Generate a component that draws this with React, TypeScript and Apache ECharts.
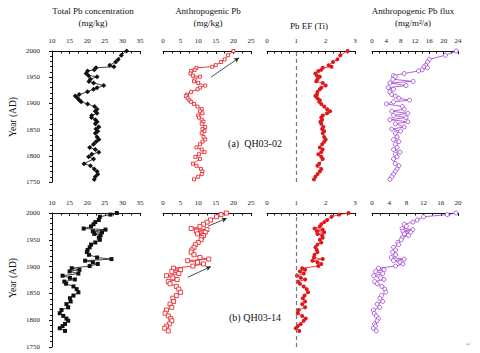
import React, { useEffect, useRef } from 'react';
import * as echarts from 'echarts';

// ---------- QH03-02 (top row) ----------
const topYears = [2000, 1992, 1984, 1979, 1973, 1970, 1968, 1964, 1962, 1957, 1953, 1951, 1946, 1942, 1939, 1934, 1930, 1927, 1922, 1917, 1914, 1910, 1906, 1903, 1899, 1894, 1889, 1885, 1881, 1877, 1873, 1869, 1865, 1861, 1855, 1851, 1847, 1843, 1836, 1831, 1827, 1822, 1816, 1812, 1807, 1803, 1798, 1794, 1785, 1781, 1775, 1770, 1765, 1760, 1755];
const topTotalPb = [31.2, 29.7, 28.8, 28.1, 26.4, 27.6, 22.5, 22.0, 20.1, 19.7, 20.4, 22.8, 20.9, 20.5, 21.8, 24.7, 22.8, 21.8, 20.1, 17.7, 16.6, 17.3, 17.8, 18.3, 20.1, 22.1, 22.8, 22.3, 22.8, 21.3, 21.2, 22.3, 22.8, 22.3, 23.3, 22.5, 23.0, 22.3, 22.8, 23.3, 22.5, 21.8, 20.7, 22.3, 23.3, 21.3, 20.4, 21.8, 19.1, 20.9, 22.0, 22.8, 23.0, 22.3, 22.0];
const topAnthPb = [20.0, 18.5, 17.5, 16.5, 15.0, 14.0, 9.5, 9.0, 8.0, 7.8, 8.5, 10.5, 9.0, 8.8, 10.0, 12.0, 10.5, 9.8, 8.0, 6.8, 6.5, 7.0, 7.5, 8.0, 8.8, 9.8, 11.0, 10.5, 11.2, 10.0, 10.2, 11.0, 11.5, 11.0, 12.0, 11.2, 11.8, 11.0, 11.5, 12.0, 11.2, 10.5, 9.5, 11.0, 11.8, 10.2, 9.2, 10.5, 8.5, 9.5, 10.8, 11.2, 11.0, 10.0, 8.8];
const topEF = [2.75, 2.5, 2.4, 2.25, 2.1, 2.2, 1.9, 1.85, 1.75, 1.65, 1.7, 1.8, 1.72, 1.68, 1.9, 2.0, 1.85, 1.8, 1.72, 1.7, 1.65, 1.72, 1.8, 1.78, 1.85, 1.95, 2.05, 2.15, 2.05, 1.9, 1.85, 1.88, 1.82, 1.85, 1.92, 1.88, 1.95, 1.9, 1.95, 2.0, 1.95, 1.88, 1.8, 1.9, 1.85, 1.75, 1.85, 1.9, 1.78, 1.72, 1.85, 1.8, 1.72, 1.65, 1.6];
const topFlux = [23.5, 20.5, 16.0, 15.5, 15.0, 14.5, 15.5, 14.0, 13.0, 9.0, 6.0, 6.5, 5.8, 11.5, 5.0, 9.5, 4.5, 6.0, 5.0, 5.5, 6.5, 7.5, 10.5, 6.0, 4.0, 8.5, 9.0, 5.5, 10.0, 6.0, 9.5, 5.0, 10.0, 6.5, 9.0, 5.5, 8.0, 6.5, 7.0, 6.0, 7.5, 6.5, 7.0, 6.0, 7.8, 6.5, 7.0, 6.0, 6.5, 7.5, 7.0, 6.5, 6.0, 5.5, 5.0];

// ---------- QH03-14 (bottom row) ----------
const bottomYears = [2000, 1997, 1993, 1987, 1983, 1979, 1975, 1971, 1969, 1966, 1964, 1961, 1958, 1954, 1950, 1945, 1941, 1936, 1931, 1927, 1922, 1917, 1914, 1911, 1908, 1905, 1901, 1897, 1894, 1891, 1887, 1883, 1879, 1876, 1872, 1868, 1863, 1858, 1852, 1846, 1841, 1835, 1830, 1824, 1819, 1813, 1808, 1803, 1799, 1793, 1789, 1785, 1780];
const bottomTotalPb = [28.4, 26.6, 23.6, 23.3, 22.3, 21.8, 21.1, 19.0, 25.2, 21.6, 24.2, 22.0, 23.8, 23.3, 23.6, 22.3, 21.1, 20.7, 20.1, 19.9, 20.5, 22.8, 26.9, 19.4, 21.6, 23.0, 20.7, 15.6, 17.8, 15.0, 17.5, 13.0, 15.1, 16.5, 13.5, 14.0, 16.1, 17.0, 17.5, 16.1, 15.1, 15.3, 14.1, 14.6, 12.7, 12.2, 13.2, 14.1, 14.6, 13.7, 13.0, 12.2, 13.7];
const bottomAnthPb = [18.0, 16.5, 15.2, 13.5, 12.5, 11.5, 10.5, 8.0, 12.5, 9.5, 12.0, 9.8, 11.5, 11.0, 10.8, 10.0, 9.2, 8.8, 8.2, 8.0, 8.8, 10.5, 13.0, 7.0, 9.8, 11.5, 8.5, 3.0, 5.0, 2.5, 4.5, 1.0, 2.8, 4.0, 1.5, 2.0, 3.8, 4.5, 5.0, 3.8, 2.8, 3.0, 2.0, 2.5, 1.0, 0.6, 1.5, 2.2, 2.5, 1.8, 1.0, 0.5, 1.5];
const bottomEF = [2.78, 2.45, 2.2, 2.05, 1.95, 1.85, 1.8, 1.62, 1.9, 1.7, 1.95, 1.72, 1.88, 1.9, 1.8, 1.85, 1.72, 1.65, 1.7, 1.72, 1.62, 1.6, 1.9, 1.55, 1.72, 1.85, 1.75, 1.2, 1.3, 1.12, 1.25, 1.02, 1.15, 1.3, 1.05, 1.12, 1.25, 1.35, 1.4, 1.28, 1.22, 1.3, 1.2, 1.3, 1.08, 1.05, 1.2, 1.32, 1.25, 1.15, 1.05, 0.98, 1.1];
const bottomFlux = [19.5, 17.5, 12.0, 10.5, 9.5, 7.5, 8.0, 7.0, 9.5, 7.2, 9.0, 7.5, 8.5, 7.0, 6.8, 6.0, 6.2, 5.0, 5.5, 4.8, 5.5, 4.5, 7.5, 5.0, 6.5, 7.2, 5.5, 1.5, 2.8, 0.8, 2.5, 0.4, 2.0, 2.8, 0.6, 1.2, 2.3, 3.0, 3.2, 2.2, 1.8, 2.5, 1.2, 1.8, 0.3, 0.5, 1.0, 1.5, 1.2, 0.6, 0.8, 0.3, 1.0];

// ---------- axis ranges [min, max, interval, minorSplit] ----------
const topXAxes = [[10, 35, 5, 2], [0, 25, 5, 2], [0, 3, 1, 4], [0, 24, 4, 2]];
const bottomXAxes = [[10, 35, 5, 2], [0, 25, 5, 2], [0, 3, 1, 4], [0, 20, 4, 2]];
const yearRange = [1750, 2000, 50];

// ---------- annotation arrows (data coords of the anthropogenic Pb panels) ----------
const topArrows = [[[13.6, 1950], [21.6, 1987]]];
const bottomArrows = [[[12.8, 1975.5], [18.1, 1990]], [[7.0, 1880], [13.6, 1900]]];

const titles = [
  ['Total Pb concentration', '(mg/kg)'],
  ['Anthropogenic Pb', '(mg/kg)'],
  ['Pb EF (Ti)'],
  ['Anthropogenic Pb flux', '(mg/m²/a)'],
];
const sampleLabels = ['(a)  QH03-02', '(b) QH03-14'];

const RED = '#e3161c';
const PURPLE = '#9b3ad0';
const FONT = 'Liberation Serif, serif';

const cols = [
  { left: 52, width: 88, cx: 93 },
  { left: 163, width: 88, cx: 208 },
  { left: 267, width: 88, cx: 309 },
  { left: 372, width: 86, cx: 413 },
];
const rows = [
  { top: 51, height: 131 },
  { top: 213, height: 134 },
];

function buildOption() {
  const grid: any[] = [];
  const xAxis: any[] = [];
  const yAxis: any[] = [];
  const series: any[] = [];
  const rowData = [
    { years: topYears, vals: [topTotalPb, topAnthPb, topEF, topFlux], ax: topXAxes, arrows: topArrows },
    { years: bottomYears, vals: [bottomTotalPb, bottomAnthPb, bottomEF, bottomFlux], ax: bottomXAxes, arrows: bottomArrows },
  ];
  rowData.forEach((rd, r) => {
    cols.forEach((c, ci) => {
      const idx = grid.length;
      grid.push({ left: c.left, width: c.width, top: rows[r].top, height: rows[r].height, containLabel: false });
      const [mn, mx, iv, ms] = rd.ax[ci];
      xAxis.push({
        gridIndex: idx,
        type: 'value',
        position: 'top',
        min: mn,
        max: mx,
        interval: iv,
        axisLine: { show: true, onZero: false, lineStyle: { color: '#111', width: 1 } },
        axisTick: { show: true, inside: true, length: 3, lineStyle: { color: '#111' } },
        minorTick: { show: true, splitNumber: ms, length: 2.5, lineStyle: { color: '#111' } },
        splitLine: { show: false },
        axisLabel: { fontSize: 7, color: '#222', fontFamily: FONT, margin: 7, formatter: (v: number) => String(v) },
      });
      yAxis.push({
        gridIndex: idx,
        type: 'value',
        min: yearRange[0],
        max: yearRange[1],
        interval: yearRange[2],
        show: ci === 0,
        axisLine: { show: true, onZero: false, lineStyle: { color: '#111', width: 1 } },
        axisTick: { show: true, inside: false, length: 3, lineStyle: { color: '#111' } },
        minorTick: { show: true, splitNumber: 5, length: 2, lineStyle: { color: '#111' } },
        splitLine: { show: false },
        axisLabel: { fontSize: 7, color: '#222', fontFamily: FONT, margin: 12, formatter: (v: number) => String(v) },
      });
      const data = rd.years.map((y, i) => [rd.vals[ci][i], y]);
      const s: any = {
        type: 'line',
        xAxisIndex: idx,
        yAxisIndex: idx,
        data,
        clip: false,
        silent: true,
        lineStyle: { width: 1 },
      };
      if (ci === 0) {
        s.symbol = r === 0 ? 'diamond' : 'rect';
        s.symbolSize = r === 0 ? 5 : 4;
        s.itemStyle = { color: '#111' };
        s.lineStyle = { width: 0.8, color: '#111' };
      } else if (ci === 1) {
        s.symbol = 'rect';
        s.symbolSize = r === 0 ? 3 : 4;
        s.itemStyle = { color: '#fff', borderColor: RED, borderWidth: 0.8 };
        s.lineStyle = { width: 0.8, color: RED };
        s.markLine = {
          silent: true,
          symbol: ['none', 'arrow'],
          symbolSize: [4, 5],
          label: { show: false },
          lineStyle: { color: '#222', width: 0.8, type: 'solid' },
          data: rd.arrows.map((a) => [{ coord: a[0] }, { coord: a[1] }]),
        };
      } else if (ci === 2) {
        s.symbol = 'circle';
        s.symbolSize = 4;
        s.itemStyle = { color: RED };
        s.lineStyle = { width: 0.8, color: RED };
        s.markLine = {
          silent: true,
          symbol: ['none', 'none'],
          label: { show: false },
          lineStyle: { color: '#777', width: 1.2, type: [4, 3] },
          data: [{ xAxis: 1 }],
        };
      } else {
        s.symbol = 'circle';
        s.symbolSize = 4;
        s.itemStyle = { color: '#fff', borderColor: PURPLE, borderWidth: 0.8 };
        s.lineStyle = { width: 0.8, color: PURPLE };
      }
      series.push(s);
    });
  });

  const graphics: any[] = [];
  const txt = (text: string, x: number, y: number, size: number, extra: any = {}) => ({
    type: 'text',
    x,
    y,
    silent: true,
    ...extra,
    style: {
      text,
      fill: '#111',
      fontSize: size,
      fontFamily: FONT,
      align: 'center',
      verticalAlign: 'middle',
      textAlign: 'center',
      textVerticalAlign: 'middle',
    },
  });
  titles.forEach((t, i) => {
    if (t.length === 1) {
      graphics.push(txt(t[0], cols[i].cx, 26, 9));
    } else {
      graphics.push(txt(t[0], cols[i].cx, 11, 9));
      graphics.push(txt(t[1], cols[i].cx, 22.5, 9));
    }
  });
  graphics.push(txt('Year (AD)', 13, 117, 9.5, { rotation: Math.PI / 2 }));
  graphics.push(txt('Year (AD)', 13, 278, 9.5, { rotation: Math.PI / 2 }));
  graphics.push(txt(sampleLabels[0], 255, 143, 10));
  graphics.push(txt(sampleLabels[1], 255, 317, 10));
  graphics.push({
    type: 'text',
    x: 466,
    y: 340,
    silent: true,
    style: { text: '↵', fill: '#aaa', fontSize: 6, fontFamily: 'DejaVu Sans' },
  });

  return {
    animation: false,
    backgroundColor: '#ffffff',
    textStyle: { fontFamily: FONT },
    grid,
    xAxis,
    yAxis,
    series,
    graphic: graphics,
  };
}

export default function App() {
  const ref = useRef<HTMLDivElement>(null);
  useEffect(() => {
    if (!ref.current) return;
    const chart = echarts.init(ref.current, undefined, { renderer: 'svg' });
    chart.setOption(buildOption());
    return () => chart.dispose();
  }, []);
  return <div ref={ref} style={{ width: 480, height: 353, position: 'absolute', left: 0, top: 0 }} />;
}
